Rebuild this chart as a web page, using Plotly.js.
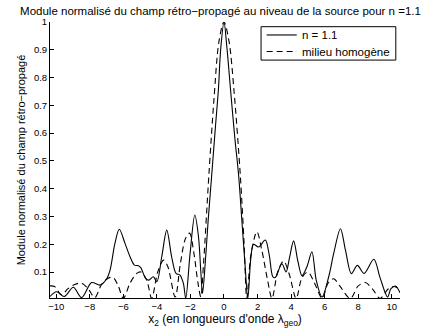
<!DOCTYPE html>
<html>
<head>
<meta charset="utf-8">
<script src="https://cdn.plot.ly/plotly-3.0.1.min.js"></script>
<style>html,body{margin:0;padding:0;background:#fff;}#chart{width:441px;height:333px;}</style>
</head>
<body>
<div id="chart"></div>
<script>
// Solid curve: n = 1.1
const xSolid = [-10.37,-9.98,-9.52,-8.98,-8.49,-7.89,-7.39,-7.0,-6.79,-6.5,-6.24,-5.9,-5.6,-5.34,-5.1,-4.95,-4.67,-4.47,-4.21,-4.0,-3.71,-3.41,-3.12,-2.86,-2.62,-2.42,-2.28,-2.02,-1.74,-1.52,-1.38,-1.28,-1.12,-0.95,-0.73,-0.5,-0.33,-0.2,0,0.17,0.4,0.65,0.87,1.06,1.25,1.42,1.6,1.76,2.06,2.46,2.7,2.91,3.05,3.45,3.7,3.9,4.15,4.4,4.65,4.95,5.24,5.5,5.84,6.24,6.54,6.94,7.24,7.59,7.95,8.35,8.93,9.3,9.75,9.95,10.24,10.49];
const ySolid = [0.012,0.029,0.012,0.045,0.008,0.062,0.053,0.075,0.107,0.203,0.254,0.203,0.155,0.125,0.123,0.115,0.077,0.071,0.083,0.065,0.155,0.251,0.155,0.095,0.089,0.059,0.005,0.167,0.305,0.227,0.1,0.023,0.13,0.28,0.45,0.63,0.76,0.9,1.0,0.91,0.75,0.58,0.45,0.29,0.13,0.005,0.15,0.2,0.19,0.215,0.16,0.083,0.08,0.13,0.1,0.15,0.212,0.14,0.087,0.12,0.173,0.07,0.01,0.083,0.167,0.256,0.179,0.094,0.124,0.095,0.146,0.08,0.01,0.04,0.049,0.025];

// Dashed curve: milieu homogène
const xHomog = [-10.37,-10.1,-9.68,-9.3,-8.9,-8.5,-8.1,-7.7,-7.3,-6.9,-6.6,-6.3,-6.0,-5.6,-5.2,-4.95,-4.6,-4.31,-3.95,-3.6,-3.35,-2.91,-2.6,-2.3,-2.05,-1.8,-1.55,-1.38,-1.22,-0.9,-0.6,-0.3,0,0.3,0.6,0.97,1.2,1.36,1.6,1.96,2.25,2.6,2.86,3.2,3.55,3.9,4.3,4.65,5.0,5.4,5.85,6.2,6.54,6.9,7.53,8.0,8.43,8.9,9.3,9.8,10.15,10.49];
const yHomog = [0.05,0.048,0.018,0.04,0.055,0.06,0.04,0.008,0.055,0.078,0.08,0.05,0.005,0.06,0.095,0.1,0.07,0.005,0.1,0.143,0.12,0.01,0.13,0.22,0.24,0.17,0.06,0.01,0.13,0.45,0.72,0.93,1.0,0.93,0.75,0.45,0.2,0.005,0.16,0.245,0.18,0.07,0.005,0.1,0.14,0.09,0.005,0.08,0.1,0.06,0.005,0.06,0.076,0.05,0.005,0.05,0.062,0.035,0.005,0.04,0.048,0.035];

const seriesNames = ['n = 1.1', 'milieu homogène'];
const xTicks = [-10,-8,-6,-4,-2,0,2,4,6,8,10];
const yTicks = [0.1,0.2,0.3,0.4,0.5,0.6,0.7,0.8,0.9,1];
const yTickText = ['0.1','0.2','0.3','0.4','0.5','0.6','0.7','0.8','0.9','1'];

const FONT = 'Liberation Sans, Arial, Helvetica, sans-serif';
const DASH = '6px,4px';

const traces = [
  {x: xSolid, y: ySolid, type: 'scatter', mode: 'lines', name: seriesNames[0],
   line: {color: '#000', width: 1.1, shape: 'spline', smoothing: 0.9}},
  {x: xHomog, y: yHomog, type: 'scatter', mode: 'lines', name: seriesNames[1],
   line: {color: '#000', width: 1.1, dash: DASH, shape: 'spline', smoothing: 0.9}}
];

// Legend box (paper coordinates of the plot area)
const lg = {x0: 0.603, x1: 0.988, y0: 0.862, y1: 0.983, rows: [0.953, 0.893], lx0: 0.619, lx1: 0.705, tx: 0.714};

const layout = {
  width: 441, height: 333,
  margin: {l: 50, r: 41, t: 22, b: 35},
  paper_bgcolor: '#fff', plot_bgcolor: '#fff',
  font: {family: FONT, size: 10, color: '#000'},
  showlegend: false,
  title: {text: 'Module normalisé du champ rétro−propagé au niveau de la source pour n =1.1',
          font: {family: FONT, size: 11.5, color: '#000'},
          xref: 'container', x: 0.5, xanchor: 'center', yref: 'container', y: 0.968, yanchor: 'middle'},
  xaxis: {range: [-10.37, 10.49], tickvals: xTicks, ticks: 'inside', ticklen: 4, tickcolor: '#000',
          showline: true, linecolor: '#000', linewidth: 1, mirror: false, showgrid: false, zeroline: false,
          tickfont: {family: FONT, size: 9.5},
          title: {text: 'x<sub>2</sub> (en longueurs d\'onde λ<sub>geo</sub>)', font: {family: FONT, size: 12}, standoff: 0}},
  yaxis: {range: [0.0065, 1], tickvals: yTicks, ticktext: yTickText, ticks: 'inside', ticklen: 4, tickcolor: '#000',
          showline: true, linecolor: '#000', linewidth: 1, mirror: false, showgrid: false, zeroline: false,
          tickfont: {family: FONT, size: 9.5},
          title: {text: 'Module normalisé du champ rétro−propagé', font: {family: FONT, size: 11}, standoff: 6}},
  shapes: [
    {type: 'rect', xref: 'paper', yref: 'paper', x0: lg.x0, x1: lg.x1, y0: lg.y0, y1: lg.y1,
     line: {color: '#000', width: 1}, fillcolor: '#fff', layer: 'above'},
    {type: 'line', xref: 'paper', yref: 'paper', x0: lg.lx0, x1: lg.lx1, y0: lg.rows[0], y1: lg.rows[0],
     line: {color: '#000', width: 1.1}, layer: 'above'},
    {type: 'line', xref: 'paper', yref: 'paper', x0: lg.lx0, x1: lg.lx1, y0: lg.rows[1], y1: lg.rows[1],
     line: {color: '#000', width: 1.1, dash: DASH}, layer: 'above'}
  ],
  annotations: seriesNames.map((name, i) => ({
    text: name, xref: 'paper', yref: 'paper', x: lg.tx, y: lg.rows[i], xanchor: 'left', yanchor: 'middle',
    showarrow: false, font: {family: FONT, size: 11.5, color: '#000'}
  }))
};

Plotly.newPlot('chart', traces, layout, {staticPlot: true, displayModeBar: false});
</script>
</body>
</html>
